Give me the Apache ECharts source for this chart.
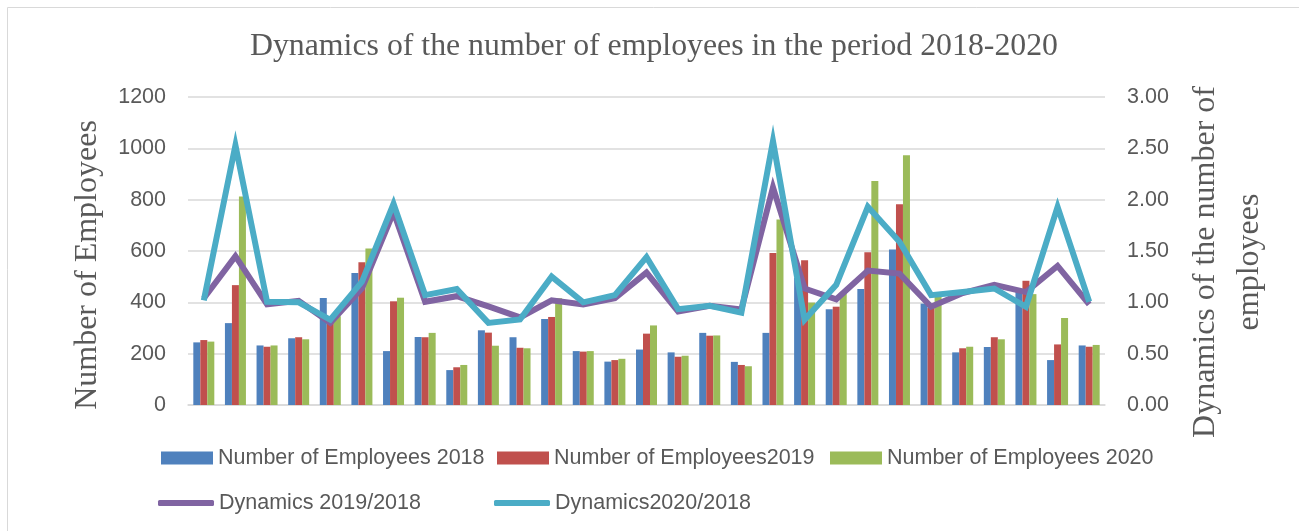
<!DOCTYPE html>
<html>
<head>
<meta charset="utf-8">
<script src="https://cdn.jsdelivr.net/npm/echarts@6/dist/echarts.min.js"></script>
<style>
html, body { margin: 0; padding: 0; background: #fff; }
#con { width: 1299px; height: 531px; }
</style>
</head>
<body>
<div id="con"></div>
<script>
// 29 organisations, no category labels shown on the chart
var units = ['1','2','3','4','5','6','7','8','9','10','11','12','13','14','15',
             '16','17','18','19','20','21','22','23','24','25','26','27','28','29'];

var emp2018 = [244,319,232,260,417,514,210,265,136,291,264,335,210,169,216,
               205,281,168,281,495,373,452,606,395,205,226,445,175,232];
var emp2019 = [253,467,227,264,334,556,404,264,147,282,223,343,208,175,278,
               188,270,156,592,564,383,595,782,378,221,264,484,236,227];
var emp2020 = [247,812,232,256,346,610,418,281,156,231,221,416,210,180,310,
               192,271,151,723,399,436,873,973,423,227,256,432,339,234];

var dyn1918 = [1.04,1.45,0.98,1.015,0.80,1.135,1.88,1.005,1.06,0.96,0.853,1.02,0.98,1.04,1.29,
               0.91,0.966,0.93,2.12,1.135,1.03,1.31,1.28,0.957,1.09,1.17,1.10,1.355,0.98];
var dyn2018 = [1.02,2.53,1.005,1.0,0.83,1.20,1.96,1.07,1.13,0.80,0.833,1.25,1.0,1.07,1.44,
               0.934,0.966,0.90,2.57,0.83,1.17,1.93,1.59,1.07,1.10,1.135,0.957,1.93,1.005];

var names = ['Number of Employees 2018', 'Number of Employees2019', 'Number of Employees 2020',
             'Dynamics 2019/2018', 'Dynamics2020/2018'];
var colors = ['#4F81BD', '#C0504D', '#9BBB59', '#8064A2', '#4BACC6'];

var txtColor = '#595959';
var sans = 'Liberation Sans';
var serif = 'Liberation Serif';
var labelSize = 21.5;

var myChart = echarts.init(document.getElementById('con'));

// one legend per item so they line up like a table
var legendPos = [[161, 447], [497, 447], [830, 447], [158, 492], [494, 492]];
var legends = names.map(function (n, i) {
    return {
        data: [n],
        left: legendPos[i][0],
        top: legendPos[i][1],
        padding: 0,
        icon: i < 3 ? 'rect' : 'roundRect',
        itemWidth: i < 3 ? 52 : 56,
        itemHeight: i < 3 ? 13 : 6,
        itemGap: 5,
        textStyle: { color: txtColor, fontFamily: sans, fontSize: labelSize }
    };
});

var barSeries = [emp2018, emp2019, emp2020].map(function (d, i) {
    return {
        name: names[i],
        type: 'bar',
        data: d,
        barWidth: 7,
        barGap: '0%',
        itemStyle: { color: colors[i] }
    };
});

var lineSeries = [dyn1918, dyn2018].map(function (d, i) {
    return {
        name: names[3 + i],
        type: 'line',
        yAxisIndex: 1,
        data: d,
        symbol: 'none',
        lineStyle: { width: 6, color: colors[3 + i], join: 'miter' },
        itemStyle: { color: colors[3 + i] }
    };
});

var option = {
    animation: false,
    title: {
        text: 'Dynamics of the number of employees in the period 2018-2020',
        left: 250,
        top: 31,
        padding: 0,
        textStyle: { fontFamily: serif, fontSize: 31.8, fontWeight: 'normal', color: txtColor }
    },
    legend: legends,
    grid: { left: 188, right: 194, top: 97, bottom: 126 },
    xAxis: {
        type: 'category',
        data: units,
        axisLine: { lineStyle: { color: '#D9D9D9', width: 1.5 } },
        axisTick: { show: false },
        axisLabel: { show: false }
    },
    yAxis: [
        {
            type: 'value',
            min: 0,
            max: 1200,
            interval: 200,
            axisLine: { show: false },
            axisTick: { show: false },
            axisLabel: {
                margin: 22, color: txtColor, fontFamily: sans, fontSize: labelSize,
                formatter: function (v) { return String(v); }
            },
            splitLine: { lineStyle: { color: '#D9D9D9', width: 1.5 } }
        },
        {
            type: 'value',
            min: 0,
            max: 3,
            interval: 0.5,
            axisLine: { show: false },
            axisTick: { show: false },
            splitLine: { show: false },
            axisLabel: {
                margin: 22, color: txtColor, fontFamily: sans, fontSize: labelSize,
                formatter: function (v) { return v.toFixed(2); }
            }
        }
    ],
    graphic: [
        {
            type: 'rect', silent: true,
            shape: { x: 7.5, y: 7.5, width: 1400, height: 700 },
            style: { fill: 'none', stroke: '#D9D9D9', lineWidth: 1 }
        },
        {
            type: 'text', x: 88, y: 265, rotation: Math.PI / 2,
            style: {
                text: 'Number of Employees', fill: txtColor,
                font: '32px "Liberation Serif"', align: 'center', verticalAlign: 'middle'
            }
        },
        {
            type: 'text', x: 1228, y: 262, rotation: Math.PI / 2,
            style: {
                text: 'Dynamics of the number of\nemployees', fill: txtColor,
                font: '32px "Liberation Serif"', lineHeight: 44,
                align: 'center', verticalAlign: 'middle'
            }
        }
    ],
    series: barSeries.concat(lineSeries)
};

myChart.setOption(option);
window.onresize = myChart.resize;
</script>
</body>
</html>
